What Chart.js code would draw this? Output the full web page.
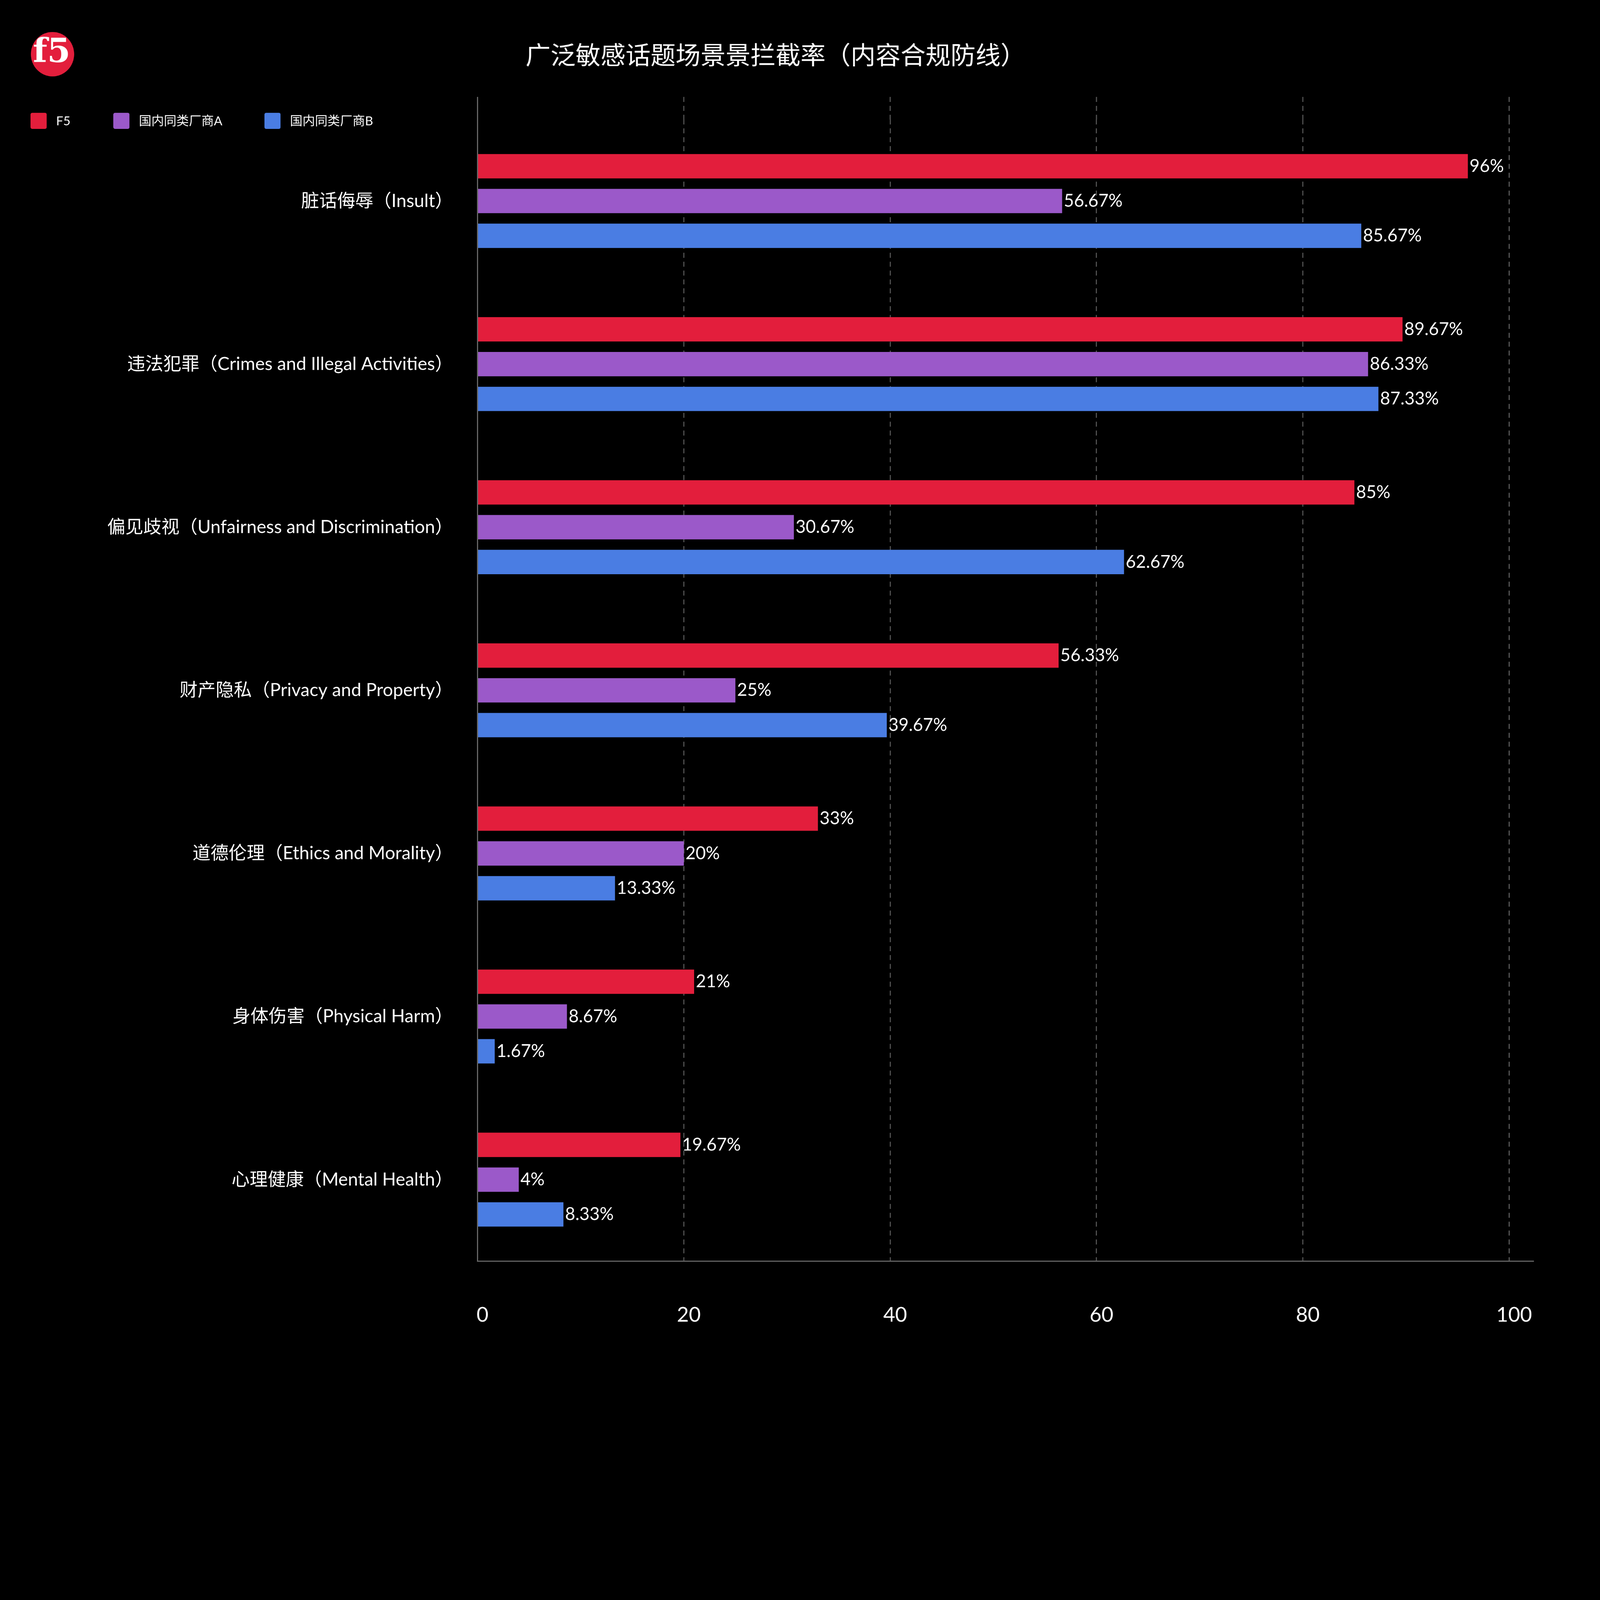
<!DOCTYPE html>
<html>
<head>
<meta charset="utf-8">
<script src="https://cdn.jsdelivr.net/npm/chart.js@4.4.1/dist/chart.umd.min.js"></script>
<style>
  html, body { margin: 0; padding: 0; background: #000; overflow: hidden; }
  #wrap { width: 5760px; height: 5097px; transform-origin: 0 0; }
</style>
</head>
<body>
<div id="wrap"><canvas id="myChart" width="5760" height="5097"></canvas></div>
<script>
// data
var categories = ['脏话侮辱（Insult）', '违法犯罪（Crimes and Illegal Activities）', '偏见歧视（Unfairness and Discrimination）',
  '财产隐私（Privacy and Property）', '道德伦理（Ethics and Morality）', '身体伤害（Physical Harm）', '心理健康（Mental Health）'];
var seriesNames = ['F5', '国内同类厂商A', '国内同类厂商B'];
var f5Values = [96, 89.67, 85, 56.33, 33, 21, 19.67];
var vendorA = [56.67, 86.33, 30.67, 25, 20, 8.67, 4];
var vendorB = [85.67, 87.33, 62.67, 39.67, 13.33, 1.67, 8.33];
var xTicks = [0, 20, 40, 60, 80, 100];
var colors = ['#e31e3c', '#9b59c9', '#4a7de3'];

var FONT = "Lato, 'Noto Sans CJK SC', sans-serif";

// fit the 5760-wide drawing into whatever the window really is
var k = Math.min(window.innerWidth / 5760, window.innerHeight / 5097);
document.getElementById('wrap').style.transform = 'scale(' + k + ')';

// logo, title, legend, axis lines and the value labels
var decor = {
  id: 'decor',
  beforeDatasetsDraw: function (chart) {
    var ctx = chart.ctx, x = chart.scales.x, area = chart.chartArea;
    ctx.save();
    ctx.strokeStyle = '#555';
    ctx.lineWidth = 4;
    ctx.setLineDash([18, 14]);
    xTicks.forEach(function (t) {
      if (t === 0) return;
      var px = x.getPixelForValue(t);
      ctx.beginPath();
      ctx.moveTo(px, 349);
      ctx.lineTo(px, area.top);
      ctx.stroke();
    });
    ctx.setLineDash([]);
    ctx.strokeStyle = '#666';
    ctx.beginPath();
    ctx.moveTo(area.left, 349);
    ctx.lineTo(area.left, area.bottom);
    ctx.lineTo(area.right, area.bottom);
    ctx.stroke();
    ctx.restore();
  },
  afterDraw: function (chart) {
    var ctx = chart.ctx;
    ctx.save();
    // logo
    ctx.fillStyle = '#e31e3c';
    ctx.beginPath();
    ctx.ellipse(189, 195, 78, 80, 0, 0, Math.PI * 2);
    ctx.fill();
    ctx.fillStyle = '#fff';
    ctx.font = "bold 120px 'DejaVu Serif', serif";
    ctx.textAlign = 'center';
    ctx.textBaseline = 'middle';
    ctx.fillText('f5', 186, 192);
    // title
    ctx.font = '90px ' + FONT;
    ctx.fillText('广泛敏感话题场景景拦截率（内容合规防线）', 2792, 202);
    // legend
    var lx = [110, 408, 952];
    ctx.font = '45px ' + FONT;
    ctx.textAlign = 'left';
    seriesNames.forEach(function (n, i) {
      ctx.fillStyle = colors[i];
      ctx.beginPath();
      ctx.roundRect(lx[i], 406, 58, 58, 6);
      ctx.fill();
      ctx.fillStyle = '#fff';
      ctx.fillText(n, lx[i] + 92, 436);
    });
    // value labels
    ctx.font = '63px ' + FONT;
    ctx.textBaseline = 'middle';
    chart.data.datasets.forEach(function (ds, i) {
      chart.getDatasetMeta(i).data.forEach(function (bar, j) {
        ctx.fillText(ds.data[j] + '%', bar.x + 6, bar.y);
      });
    });
    ctx.restore();
  }
};

var ctx = document.getElementById('myChart').getContext('2d');
var chart = new Chart(ctx, {
  type: 'bar',
  data: {
    labels: categories,
    datasets: [f5Values, vendorA, vendorB].map(function (d, i) {
      return { label: seriesNames[i], data: d, backgroundColor: colors[i],
        categoryPercentage: 0.64, barPercentage: 0.7 };
    })
  },
  options: {
    indexAxis: 'y',
    responsive: false,
    animation: false,
    devicePixelRatio: 1,
    layout: { padding: { top: 430, right: 238, bottom: 168, left: 0 } },
    plugins: { legend: { display: false }, tooltip: { enabled: false } },
    scales: {
      x: {
        min: 0, max: 102.4,
        afterBuildTicks: function (s) { s.ticks = xTicks.map(function (v) { return { value: v }; }); },
        grid: { color: function (c) { return c.tick && c.tick.value === 0 ? 'rgba(0,0,0,0)' : '#555'; },
          lineWidth: 4, drawTicks: false },
        border: { display: false, dash: [18, 14] },
        ticks: { color: '#fff', font: { size: 74, family: FONT }, padding: 150, labelOffset: 18 }
      },
      y: {
        grid: { display: false },
        border: { display: false },
        afterFit: function (s) { s.width = 1719; },
        ticks: { color: '#fff', font: { size: 65, family: FONT }, padding: 80 }
      }
    }
  },
  plugins: [decor]
});
</script>
</body>
</html>
